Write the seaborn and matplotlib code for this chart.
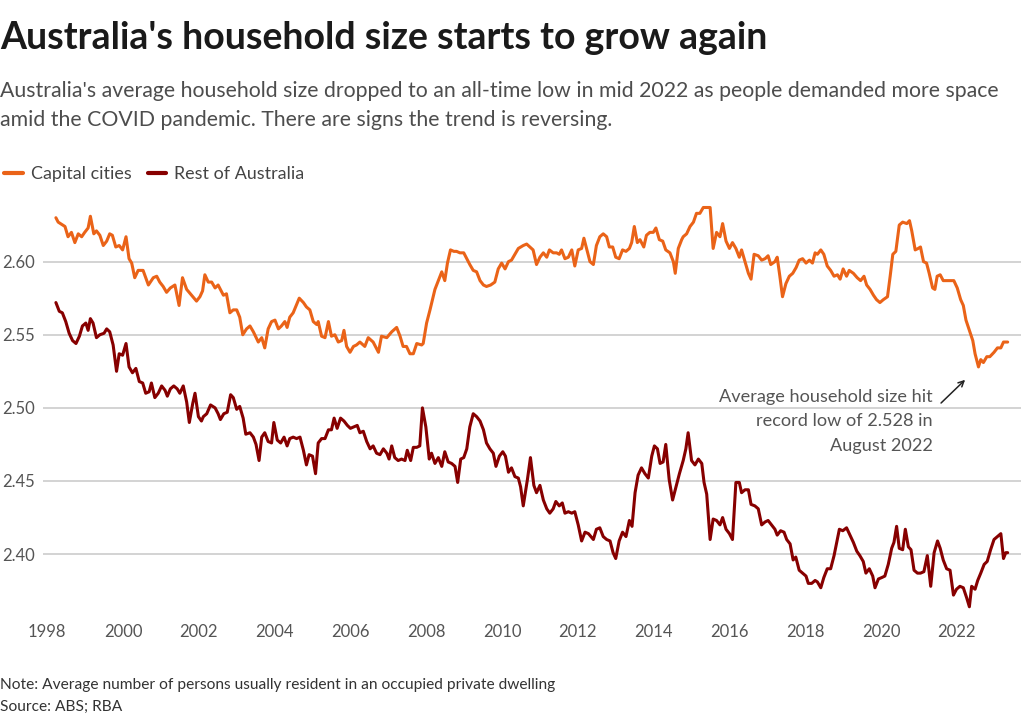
import pandas as pd
import matplotlib.pyplot as plt
import seaborn as sns

# Capital cities (decimal year, average household size)
capital_years = [
    1998.23, 1998.29, 1998.35, 1998.47, 1998.55, 1998.64, 1998.73, 1998.82, 1998.91, 1998.99,
    1999.08, 1999.14, 1999.23, 1999.30, 1999.39, 1999.48, 1999.57, 1999.65, 1999.72, 1999.81,
    1999.90, 1999.99, 2000.08, 2000.16, 2000.23, 2000.31, 2000.40, 2000.53, 2000.67, 2000.80,
    2000.89, 2000.97, 2001.06, 2001.15, 2001.25, 2001.37, 2001.48, 2001.57, 2001.68, 2001.81,
    2001.94, 2002.03, 2002.10, 2002.16, 2002.25, 2002.34, 2002.43, 2002.51, 2002.65, 2002.73,
    2002.82, 2002.91, 2003.00, 2003.08, 2003.16, 2003.26, 2003.35, 2003.44, 2003.57, 2003.66,
    2003.74, 2003.83, 2003.92, 2004.01, 2004.10, 2004.18, 2004.27, 2004.33, 2004.40, 2004.49,
    2004.65, 2004.76, 2004.84, 2004.93, 2005.02, 2005.11, 2005.15, 2005.24, 2005.33, 2005.42,
    2005.50, 2005.59, 2005.68, 2005.77, 2005.83, 2005.90, 2005.99, 2006.08, 2006.16, 2006.25,
    2006.38, 2006.47, 2006.60, 2006.74, 2006.82, 2006.96, 2007.09, 2007.22, 2007.31, 2007.39,
    2007.48, 2007.57, 2007.66, 2007.75, 2007.88, 2007.92, 2008.01, 2008.10, 2008.23, 2008.32,
    2008.41, 2008.49, 2008.56, 2008.64, 2008.73, 2008.80, 2008.89, 2008.99, 2009.07, 2009.15,
    2009.24, 2009.33, 2009.42, 2009.51, 2009.59, 2009.70, 2009.81, 2009.90, 2009.99, 2010.08,
    2010.17, 2010.25, 2010.34, 2010.43, 2010.56, 2010.65, 2010.82, 2010.91, 2011.00, 2011.09,
    2011.18, 2011.25, 2011.35, 2011.44, 2011.51, 2011.57, 2011.66, 2011.75, 2011.84, 2011.92,
    2012.01, 2012.10, 2012.16, 2012.23, 2012.32, 2012.41, 2012.49, 2012.58, 2012.67, 2012.76,
    2012.83, 2012.92, 2013.00, 2013.09, 2013.18, 2013.27, 2013.36, 2013.42, 2013.49, 2013.57,
    2013.64, 2013.74, 2013.81, 2013.90, 2013.99, 2014.06, 2014.15, 2014.24, 2014.32, 2014.43,
    2014.52, 2014.57, 2014.65, 2014.74, 2014.78, 2014.87, 2014.96, 2015.05, 2015.13, 2015.22,
    2015.31, 2015.49, 2015.57, 2015.66, 2015.75, 2015.82, 2015.91, 2016.00, 2016.08, 2016.17,
    2016.26, 2016.32, 2016.41, 2016.50, 2016.57, 2016.65, 2016.76, 2016.85, 2016.94, 2017.02,
    2017.09, 2017.20, 2017.26, 2017.33, 2017.40, 2017.49, 2017.58, 2017.67, 2017.76, 2017.84,
    2017.93, 2018.02, 2018.11, 2018.19, 2018.26, 2018.32, 2018.41, 2018.49, 2018.58, 2018.67,
    2018.76, 2018.85, 2018.92, 2019.00, 2019.09, 2019.16, 2019.27, 2019.37, 2019.46, 2019.55,
    2019.62, 2019.71, 2019.80, 2019.88, 2019.97, 2020.06, 2020.17, 2020.24, 2020.31, 2020.39,
    2020.48, 2020.57, 2020.68, 2020.75, 2020.81, 2020.90, 2020.98, 2021.04, 2021.12, 2021.20,
    2021.27, 2021.36, 2021.42, 2021.48, 2021.56, 2021.64, 2021.73, 2021.84, 2021.92, 2022.01,
    2022.10, 2022.17, 2022.24, 2022.33, 2022.42, 2022.48, 2022.57, 2022.63, 2022.70, 2022.79,
    2022.87, 2022.98, 2023.07, 2023.16, 2023.23, 2023.30, 2023.34,
]
capital_values = [
    2.630, 2.627, 2.626, 2.624, 2.617, 2.620, 2.613, 2.619, 2.617, 2.620,
    2.623, 2.631, 2.619, 2.621, 2.618, 2.611, 2.614, 2.619, 2.618, 2.610,
    2.611, 2.608, 2.617, 2.602, 2.599, 2.589, 2.594, 2.594, 2.584, 2.589,
    2.590, 2.586, 2.583, 2.579, 2.582, 2.584, 2.570, 2.589, 2.581, 2.577,
    2.573, 2.576, 2.580, 2.591, 2.586, 2.586, 2.582, 2.584, 2.577, 2.578,
    2.565, 2.567, 2.567, 2.562, 2.550, 2.554, 2.556, 2.552, 2.545, 2.548,
    2.541, 2.554, 2.559, 2.560, 2.554, 2.556, 2.559, 2.555, 2.562, 2.565,
    2.575, 2.572, 2.569, 2.567, 2.559, 2.557, 2.559, 2.549, 2.548, 2.559,
    2.549, 2.550, 2.545, 2.546, 2.553, 2.542, 2.538, 2.542, 2.543, 2.545,
    2.542, 2.548, 2.545, 2.538, 2.549, 2.548, 2.552, 2.555, 2.549, 2.542,
    2.542, 2.537, 2.537, 2.544, 2.543, 2.544, 2.558, 2.567, 2.581, 2.587,
    2.593, 2.587, 2.599, 2.608, 2.607, 2.607, 2.606, 2.606, 2.602, 2.598,
    2.594, 2.593, 2.587, 2.584, 2.583, 2.584, 2.586, 2.595, 2.599, 2.595,
    2.600, 2.601, 2.605, 2.609, 2.611, 2.612, 2.608, 2.598, 2.603, 2.606,
    2.603, 2.608, 2.606, 2.606, 2.605, 2.608, 2.602, 2.603, 2.608, 2.597,
    2.608, 2.609, 2.616, 2.609, 2.600, 2.598, 2.611, 2.617, 2.619, 2.617,
    2.610, 2.610, 2.603, 2.602, 2.608, 2.607, 2.609, 2.613, 2.624, 2.613,
    2.615, 2.610, 2.618, 2.620, 2.620, 2.623, 2.615, 2.614, 2.608, 2.606,
    2.600, 2.592, 2.609, 2.615, 2.617, 2.619, 2.624, 2.627, 2.633, 2.633,
    2.637, 2.637, 2.609, 2.620, 2.617, 2.626, 2.614, 2.609, 2.613, 2.609,
    2.603, 2.608, 2.600, 2.592, 2.588, 2.605, 2.604, 2.601, 2.602, 2.604,
    2.598, 2.600, 2.603, 2.590, 2.576, 2.585, 2.590, 2.592, 2.596, 2.601,
    2.602, 2.599, 2.601, 2.599, 2.606, 2.605, 2.608, 2.605, 2.597, 2.594,
    2.590, 2.591, 2.588, 2.595, 2.590, 2.594, 2.592, 2.589, 2.587, 2.590,
    2.584, 2.581, 2.577, 2.574, 2.572, 2.574, 2.576, 2.590, 2.605, 2.607,
    2.625, 2.627, 2.626, 2.628, 2.621, 2.608, 2.609, 2.610, 2.600, 2.599,
    2.592, 2.582, 2.581, 2.590, 2.591, 2.587, 2.587, 2.587, 2.587, 2.582,
    2.574, 2.570, 2.560, 2.553, 2.546, 2.537, 2.528, 2.533, 2.531, 2.535,
    2.535, 2.538, 2.541, 2.541, 2.545, 2.545, 2.545,
]

# Rest of Australia (decimal year, average household size)
rest_years = [
    1998.23, 1998.32, 1998.40, 1998.49, 1998.58, 1998.67, 1998.76, 1998.85, 1998.93, 1999.02,
    1999.08, 1999.14, 1999.21, 1999.30, 1999.39, 1999.50, 1999.57, 1999.65, 1999.74, 1999.83,
    1999.90, 1999.99, 2000.08, 2000.16, 2000.25, 2000.34, 2000.43, 2000.52, 2000.60, 2000.69,
    2000.75, 2000.84, 2000.93, 2001.02, 2001.11, 2001.17, 2001.25, 2001.34, 2001.43, 2001.50,
    2001.59, 2001.68, 2001.75, 2001.84, 2001.90, 2001.99, 2002.07, 2002.12, 2002.21, 2002.31,
    2002.43, 2002.51, 2002.57, 2002.66, 2002.75, 2002.84, 2002.91, 2003.00, 2003.08, 2003.17,
    2003.24, 2003.35, 2003.44, 2003.51, 2003.59, 2003.66, 2003.74, 2003.83, 2003.92, 2003.98,
    2004.07, 2004.16, 2004.25, 2004.33, 2004.40, 2004.49, 2004.58, 2004.67, 2004.76, 2004.84,
    2004.91, 2005.00, 2005.08, 2005.15, 2005.24, 2005.33, 2005.42, 2005.50, 2005.57, 2005.65,
    2005.74, 2005.83, 2005.92, 2006.00, 2006.09, 2006.18, 2006.25, 2006.34, 2006.43, 2006.52,
    2006.60, 2006.69, 2006.78, 2006.87, 2006.96, 2007.02, 2007.09, 2007.17, 2007.26, 2007.35,
    2007.44, 2007.50, 2007.59, 2007.66, 2007.75, 2007.83, 2007.90, 2007.99, 2008.08, 2008.14,
    2008.23, 2008.32, 2008.41, 2008.49, 2008.58, 2008.67, 2008.76, 2008.83, 2008.91, 2008.99,
    2009.07, 2009.15, 2009.24, 2009.33, 2009.42, 2009.51, 2009.59, 2009.68, 2009.77, 2009.84,
    2009.93, 2010.02, 2010.09, 2010.17, 2010.25, 2010.34, 2010.43, 2010.49, 2010.56, 2010.67,
    2010.75, 2010.84, 2010.91, 2011.00, 2011.09, 2011.18, 2011.26, 2011.35, 2011.42, 2011.51,
    2011.59, 2011.66, 2011.75, 2011.84, 2011.92, 2012.01, 2012.10, 2012.19, 2012.28, 2012.41,
    2012.49, 2012.58, 2012.67, 2012.76, 2012.85, 2012.93, 2013.00, 2013.09, 2013.18, 2013.27,
    2013.36, 2013.43, 2013.51, 2013.59, 2013.68, 2013.77, 2013.86, 2013.95, 2014.02, 2014.10,
    2014.17, 2014.25, 2014.32, 2014.41, 2014.50, 2014.59, 2014.68, 2014.78, 2014.85, 2014.91,
    2015.00, 2015.09, 2015.18, 2015.27, 2015.33, 2015.40, 2015.49, 2015.57, 2015.66, 2015.75,
    2015.82, 2015.91, 2016.00, 2016.08, 2016.17, 2016.26, 2016.32, 2016.41, 2016.50, 2016.57,
    2016.67, 2016.76, 2016.85, 2016.94, 2017.02, 2017.11, 2017.20, 2017.26, 2017.35, 2017.44,
    2017.51, 2017.60, 2017.68, 2017.75, 2017.84, 2017.93, 2018.02, 2018.08, 2018.17, 2018.26,
    2018.32, 2018.41, 2018.49, 2018.58, 2018.67, 2018.76, 2018.83, 2018.90, 2018.99, 2019.09,
    2019.18, 2019.27, 2019.36, 2019.44, 2019.53, 2019.60, 2019.69, 2019.78, 2019.84, 2019.93,
    2020.02, 2020.10, 2020.19, 2020.28, 2020.34, 2020.41, 2020.48, 2020.57, 2020.64, 2020.72,
    2020.79, 2020.87, 2020.96, 2021.04, 2021.13, 2021.22, 2021.31, 2021.40, 2021.49, 2021.56,
    2021.64, 2021.73, 2021.82, 2021.91, 2021.99, 2022.08, 2022.17, 2022.26, 2022.33, 2022.39,
    2022.48, 2022.55, 2022.63, 2022.72, 2022.80, 2022.89, 2022.98, 2023.07, 2023.16, 2023.23,
    2023.29, 2023.34,
]
rest_values = [
    2.572, 2.566, 2.565, 2.559, 2.551, 2.546, 2.544, 2.549, 2.556, 2.558,
    2.553, 2.561, 2.558, 2.548, 2.550, 2.551, 2.554, 2.552, 2.543, 2.525,
    2.537, 2.536, 2.544, 2.528, 2.524, 2.527, 2.518, 2.517, 2.510, 2.511,
    2.517, 2.507, 2.510, 2.515, 2.512, 2.508, 2.513, 2.515, 2.513, 2.510,
    2.515, 2.504, 2.490, 2.503, 2.510, 2.494, 2.491, 2.494, 2.496, 2.502,
    2.500, 2.496, 2.492, 2.496, 2.497, 2.509, 2.507, 2.499, 2.501, 2.493,
    2.482, 2.483, 2.480, 2.475, 2.464, 2.480, 2.483, 2.477, 2.476, 2.490,
    2.478, 2.476, 2.480, 2.474, 2.479, 2.480, 2.479, 2.480, 2.471, 2.461,
    2.468, 2.467, 2.455, 2.476, 2.479, 2.479, 2.485, 2.485, 2.493, 2.486,
    2.493, 2.491, 2.488, 2.486, 2.487, 2.488, 2.483, 2.484, 2.477, 2.472,
    2.474, 2.469, 2.468, 2.472, 2.469, 2.465, 2.474, 2.466, 2.464, 2.465,
    2.464, 2.471, 2.464, 2.473, 2.473, 2.474, 2.500, 2.487, 2.465, 2.469,
    2.462, 2.466, 2.460, 2.470, 2.463, 2.462, 2.460, 2.449, 2.465, 2.466,
    2.472, 2.487, 2.496, 2.494, 2.491, 2.485, 2.476, 2.472, 2.469, 2.460,
    2.467, 2.470, 2.467, 2.456, 2.459, 2.453, 2.452, 2.446, 2.433, 2.451,
    2.466, 2.447, 2.442, 2.447, 2.437, 2.431, 2.428, 2.431, 2.436, 2.433,
    2.435, 2.428, 2.429, 2.428, 2.429, 2.420, 2.409, 2.415, 2.414, 2.410,
    2.417, 2.418, 2.412, 2.410, 2.409, 2.401, 2.397, 2.409, 2.415, 2.412,
    2.423, 2.419, 2.442, 2.454, 2.459, 2.455, 2.452, 2.467, 2.474, 2.472,
    2.462, 2.463, 2.475, 2.451, 2.437, 2.446, 2.455, 2.464, 2.472, 2.483,
    2.464, 2.461, 2.465, 2.462, 2.449, 2.441, 2.410, 2.424, 2.423, 2.420,
    2.425, 2.417, 2.414, 2.410, 2.449, 2.449, 2.442, 2.444, 2.444, 2.434,
    2.433, 2.431, 2.420, 2.422, 2.423, 2.420, 2.417, 2.413, 2.416, 2.415,
    2.410, 2.407, 2.396, 2.398, 2.389, 2.387, 2.385, 2.380, 2.380, 2.382,
    2.381, 2.377, 2.384, 2.390, 2.390, 2.399, 2.408, 2.417, 2.416, 2.418,
    2.413, 2.408, 2.402, 2.399, 2.395, 2.387, 2.390, 2.385, 2.377, 2.383,
    2.384, 2.385, 2.393, 2.404, 2.408, 2.419, 2.404, 2.403, 2.417, 2.405,
    2.403, 2.389, 2.387, 2.387, 2.388, 2.399, 2.378, 2.401, 2.409, 2.404,
    2.396, 2.390, 2.389, 2.372, 2.376, 2.378, 2.377, 2.370, 2.364, 2.378,
    2.376, 2.382, 2.387, 2.393, 2.395, 2.403, 2.410, 2.412, 2.414, 2.397,
    2.401, 2.401,
]

series_names = ["Capital cities", "Rest of Australia"]
series_colors = ["#ea6318", "#870000"]
y_ticks = [2.40, 2.45, 2.50, 2.55, 2.60]
x_ticks = list(range(1998, 2023, 2))

df = pd.concat([
    pd.DataFrame({"year": capital_years, "size": capital_values, "series": series_names[0]}),
    pd.DataFrame({"year": rest_years, "size": rest_values, "series": series_names[1]}),
])

sns.set_style("white")
plt.rcParams["font.family"] = ["Lato", "DejaVu Sans"]

fig = plt.figure(figsize=(10.24, 7.21), dpi=100)
ax = fig.add_axes([0.042, 0.1503, 0.955, 0.568])

sns.lineplot(data=df, x="year", y="size", hue="series", hue_order=series_names,
             palette=series_colors, estimator=None, sort=True, linewidth=2.2,
             ax=ax, legend=False)

ax.set_xlim(1997.89, 2023.69)
ax.set_ylim(2.36, 2.64)
ax.set_yticks(y_ticks)
ax.set_yticklabels([f"{v:.2f}" for v in y_ticks])
ax.set_xticks(x_ticks)
ax.set_xticklabels([str(y) for y in x_ticks])
ax.yaxis.grid(True, color="#cccccc", linewidth=1.2)
ax.set_axisbelow(True)
ax.tick_params(axis="both", length=0, labelsize=12, colors="#555555")
ax.tick_params(axis="y", pad=6)
ax.tick_params(axis="x", pad=8)
ax.set_xlabel("")
ax.set_ylabel("")
for spine in ax.spines.values():
    spine.set_visible(False)

# Annotation for the record low
ax.annotate("", xy=(2022.27, 2.5205), xytext=(2021.53, 2.502),
            arrowprops=dict(arrowstyle="->", color="#222222", lw=1.1))
fig.text(0.911, 1 - 451 / 721, "Average household size hit\nrecord low of 2.528 in\nAugust 2022",
         ha="right", va="baseline", ma="right", fontsize=13.1, color="#555555", linespacing=1.66)

# Titles
fig.text(0.0, 1 - 49 / 721, "Australia's household size starts to grow again",
         fontsize=27, fontweight="bold", color="#1a1a1a", va="baseline")
fig.text(0.0, 1 - 97 / 721,
         "Australia's average household size dropped to an all-time low in mid 2022 as people demanded more space",
         fontsize=15.3, color="#4d4d4d", va="baseline")
fig.text(0.0, 1 - 126 / 721,
         "amid the COVID pandemic. There are signs the trend is reversing.",
         fontsize=15.3, color="#4d4d4d", va="baseline")

# Legend
handles = [plt.Line2D([0], [0], color=c, lw=3) for c in series_colors]
fig.legend(handles, series_names, loc="center left", bbox_to_anchor=(-0.012, 1 - 174 / 721),
           ncol=2, frameon=False, fontsize=12.9, handlelength=1.05, handletextpad=0.45,
           columnspacing=0.9, labelcolor="#444444")

# Footer
fig.text(0.0, 1 - 689 / 721,
         "Note: Average number of persons usually resident in an occupied private dwelling",
         fontsize=11.2, color="#333333", va="baseline")
fig.text(0.0, 1 - 711 / 721, "Source: ABS; RBA", fontsize=11.2, color="#333333", va="baseline")

fig.savefig("out.png", dpi=100)
